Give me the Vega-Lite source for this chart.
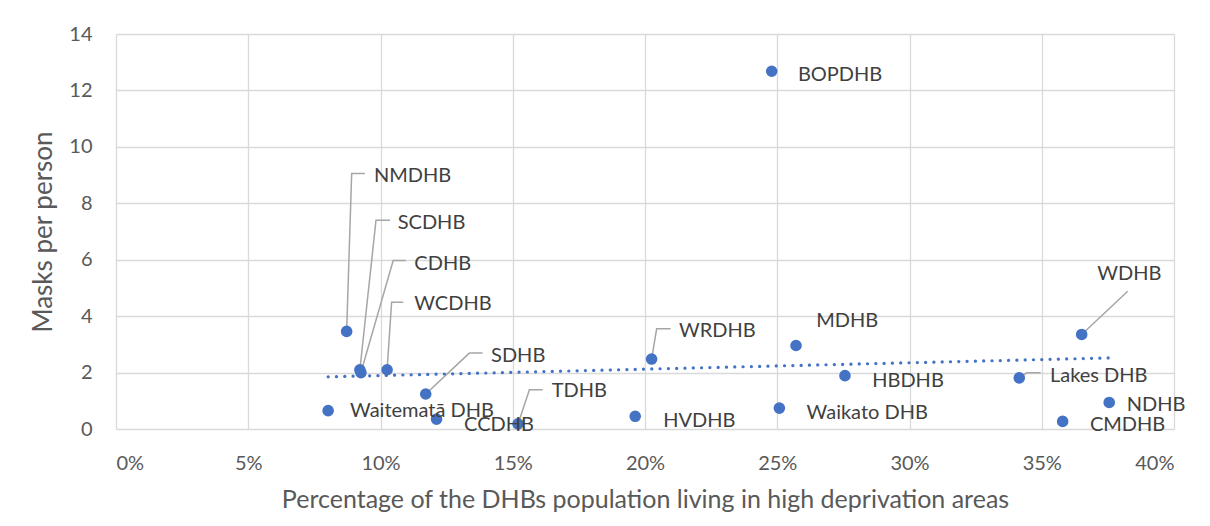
{
  "$schema": "https://vega.github.io/schema/vega-lite/v6.json",
  "width": 1058,
  "height": 395,
  "autosize": {"type": "none"},
  "padding": {"left": 116, "top": 34, "right": 36, "bottom": 97},
  "background": "white",
  "config": {
    "font": "Lato",
    "view": {"stroke": null},
    "axis": {
      "grid": true,
      "gridColor": "#d9d9d9",
      "gridWidth": 1.3,
      "domain": false,
      "ticks": false,
      "labelColor": "#595959",
      "labelFontSize": 20,
      "labelFont": "Lato",
      "titleColor": "#595959",
      "titleFont": "Lato",
      "titleFontWeight": "normal"
    }
  },
  "datasets": {
    "dhb": [
      {"name": "BOPDHB", "pct": 24.79, "masks": 12.68, "lx": 25.78, "ly": 12.56},
      {"name": "NMDHB", "pct": 8.72, "masks": 3.46, "lx": 9.75, "ly": 8.96},
      {"name": "SCDHB", "pct": 9.22, "masks": 2.1, "lx": 10.65, "ly": 7.3},
      {"name": "CDHB", "pct": 9.26, "masks": 2.0, "lx": 11.28, "ly": 5.86},
      {"name": "WCDHB", "pct": 10.25, "masks": 2.1, "lx": 11.28, "ly": 4.43},
      {"name": "SDHB", "pct": 11.71, "masks": 1.24, "lx": 14.18, "ly": 2.57},
      {"name": "Waitematā DHB", "pct": 8.02, "masks": 0.65, "lx": 8.85, "ly": 0.65},
      {"name": "CCDHB", "pct": 12.12, "masks": 0.35, "lx": 13.16, "ly": 0.15},
      {"name": "TDHB", "pct": 15.2, "masks": 0.18, "lx": 16.47, "ly": 1.33},
      {"name": "HVDHB", "pct": 19.63, "masks": 0.45, "lx": 20.69, "ly": 0.27},
      {"name": "WRDHB", "pct": 20.25, "masks": 2.48, "lx": 21.29, "ly": 3.46},
      {"name": "MDHB", "pct": 25.71, "masks": 2.96, "lx": 26.47, "ly": 3.84},
      {"name": "Waikato DHB", "pct": 25.08, "masks": 0.74, "lx": 26.11, "ly": 0.57},
      {"name": "HBDHB", "pct": 27.56, "masks": 1.89, "lx": 28.59, "ly": 1.71},
      {"name": "Lakes DHB", "pct": 34.15, "masks": 1.81, "lx": 35.31, "ly": 1.89},
      {"name": "WDHB", "pct": 36.51, "masks": 3.35, "lx": 37.1, "ly": 5.5},
      {"name": "NDHB", "pct": 37.55, "masks": 0.94, "lx": 38.21, "ly": 0.86},
      {"name": "CMDHB", "pct": 35.79, "masks": 0.27, "lx": 36.82, "ly": 0.13}
    ],
    "leaders": [
      {"name": "NMDHB", "k": 0, "pct": 8.72, "masks": 3.46},
      {"name": "NMDHB", "k": 1, "pct": 8.91, "masks": 9.06},
      {"name": "NMDHB", "k": 2, "pct": 9.41, "masks": 9.06},
      {"name": "SCDHB", "k": 0, "pct": 9.22, "masks": 2.1},
      {"name": "SCDHB", "k": 1, "pct": 9.83, "masks": 7.4},
      {"name": "SCDHB", "k": 2, "pct": 10.36, "masks": 7.4},
      {"name": "CDHB", "k": 0, "pct": 9.26, "masks": 2.0},
      {"name": "CDHB", "k": 1, "pct": 10.48, "masks": 5.97},
      {"name": "CDHB", "k": 2, "pct": 10.96, "masks": 5.97},
      {"name": "WCDHB", "k": 0, "pct": 10.25, "masks": 2.1},
      {"name": "WCDHB", "k": 1, "pct": 10.42, "masks": 4.49},
      {"name": "WCDHB", "k": 2, "pct": 10.86, "masks": 4.49},
      {"name": "SDHB", "k": 0, "pct": 11.71, "masks": 1.24},
      {"name": "SDHB", "k": 1, "pct": 13.36, "masks": 2.69},
      {"name": "SDHB", "k": 2, "pct": 13.86, "masks": 2.69},
      {"name": "TDHB", "k": 0, "pct": 15.2, "masks": 0.18},
      {"name": "TDHB", "k": 1, "pct": 15.63, "masks": 1.39},
      {"name": "TDHB", "k": 2, "pct": 16.13, "masks": 1.39},
      {"name": "WRDHB", "k": 0, "pct": 20.25, "masks": 2.48},
      {"name": "WRDHB", "k": 1, "pct": 20.44, "masks": 3.55},
      {"name": "WRDHB", "k": 2, "pct": 20.97, "masks": 3.55},
      {"name": "WDHB", "k": 0, "pct": 36.51, "masks": 3.35},
      {"name": "WDHB", "k": 1, "pct": 38.25, "masks": 4.88},
      {"name": "Lakes DHB", "k": 0, "pct": 34.15, "masks": 1.81},
      {"name": "Lakes DHB", "k": 1, "pct": 34.43, "masks": 1.99},
      {"name": "Lakes DHB", "k": 2, "pct": 34.96, "masks": 1.99}
    ],
    "trend": [
      {"pct": 8.02, "masks": 1.85},
      {"pct": 37.55, "masks": 2.52}
    ]
  },
  "encoding": {
    "x": {
      "field": "pct",
      "type": "quantitative",
      "scale": {"domain": [0, 40], "nice": false, "zero": false},
      "axis": {
        "values": [0, 5, 10, 15, 20, 25, 30, 35, 40],
        "labelExpr": "datum.value + '%'",
        "labelPadding": 24,
        "titlePadding": 14,
        "titleFontSize": 25,
        "title": "Percentage of the DHBs population living in high deprivation areas"
      }
    },
    "y": {
      "field": "masks",
      "type": "quantitative",
      "scale": {"domain": [0, 14], "nice": false},
      "axis": {
        "values": [0, 2, 4, 6, 8, 10, 12, 14],
        "labelPadding": 24,
        "titlePadding": 12,
        "titleFontSize": 26,
        "title": "Masks per person"
      }
    }
  },
  "layer": [
    {
      "data": {"name": "leaders"},
      "mark": {"type": "line", "color": "#a6a6a6", "strokeWidth": 1.5},
      "encoding": {
        "detail": {"field": "name"},
        "order": {"field": "k", "type": "quantitative"}
      }
    },
    {
      "data": {"name": "trend"},
      "mark": {"type": "line", "color": "#4472C4", "strokeWidth": 3.2, "strokeDash": [0.1, 8.2], "strokeCap": "round"},
      "encoding": {}
    },
    {
      "data": {"name": "dhb"},
      "mark": {"type": "point", "filled": true, "shape": "circle", "size": 135, "color": "#4472C4", "opacity": 1},
      "encoding": {}
    },
    {
      "data": {"name": "dhb"},
      "mark": {"type": "text", "align": "left", "baseline": "middle", "fontSize": 20, "font": "Lato", "color": "#404040"},
      "encoding": {
        "x": {"field": "lx", "type": "quantitative"},
        "y": {"field": "ly", "type": "quantitative"},
        "text": {"field": "name"}
      }
    }
  ]
}
